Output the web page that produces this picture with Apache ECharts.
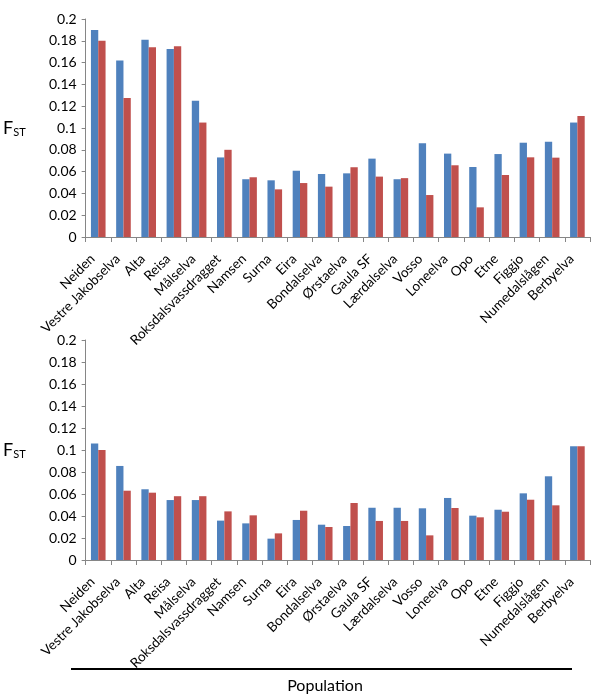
<!DOCTYPE html>
<html>
<head>
<meta charset="utf-8">
<script src="https://cdn.jsdelivr.net/npm/echarts@6/dist/echarts.min.js"></script>
<style>html,body{margin:0;padding:0;background:#fff}#c{width:600px;height:700px}</style>
</head>
<body>
<div id="c"></div>
<script>
const categories = ['Neiden','Vestre Jakobselva','Alta','Reisa','Målselva','Roksdalsvassdragget','Namsen','Surna','Eira','Bondalselva','Ørstaelva','Gaula SF','Lærdalselva','Vosso','Loneelva','Opo','Etne','Figgjo','Numedalslågen','Berbyelva'];
const topBlue = [0.190,0.162,0.181,0.1725,0.125,0.073,0.053,0.052,0.0608,0.0578,0.0584,0.0719,0.053,0.086,0.0765,0.0642,0.0761,0.0865,0.0875,0.105];
const topRed  = [0.180,0.1275,0.174,0.175,0.105,0.080,0.0548,0.0437,0.0495,0.0462,0.064,0.0554,0.054,0.0385,0.0658,0.0272,0.0569,0.0731,0.0728,0.111];
const botBlue = [0.106,0.0855,0.0643,0.0545,0.0545,0.0358,0.0333,0.0194,0.0364,0.0321,0.0309,0.0475,0.0475,0.047,0.0564,0.0403,0.0457,0.0606,0.0761,0.1034];
const botRed  = [0.100,0.063,0.0612,0.058,0.058,0.0442,0.0406,0.0242,0.0448,0.030,0.0518,0.0355,0.0355,0.0224,0.0473,0.0388,0.0439,0.0548,0.0497,0.1034];
const yTicks = [0,0.02,0.04,0.06,0.08,0.1,0.12,0.14,0.16,0.18,0.2];
const yName = 'F';
const ySub = 'ST';
const xTitle = 'Population';

const FONT = 'Lato';
const AXC = '#868686';
function xAxis(gi){
  return {
    type:'category', gridIndex:gi, data:categories, boundaryGap:true,
    axisLine:{lineStyle:{color:AXC,width:1}},
    axisTick:{show:true,alignWithLabel:false,length:5,lineStyle:{color:AXC}},
    axisLabel:{rotate:45,interval:0,margin:14,padding:[0,8,0,0],fontFamily:FONT,fontSize:13.5,color:'#000'}
  };
}
function yAxis(gi){
  return {
    type:'value', gridIndex:gi, min:0, max:0.2, interval:0.02,
    name:'{f|'+yName+'}{s|'+ySub+'}', nameLocation:'middle', nameRotate:0, nameGap:60,
    nameTextStyle:{rich:{f:{fontFamily:FONT,fontSize:18,color:'#000'},s:{fontFamily:FONT,fontSize:11,color:'#000',verticalAlign:'bottom',padding:[8,0,0,0]}}},
    splitLine:{show:false},
    axisLine:{show:true,lineStyle:{color:AXC,width:1}},
    axisTick:{show:true,length:4,inside:false,lineStyle:{color:AXC}},
    axisLabel:{fontFamily:FONT,fontSize:14,color:'#000',margin:9,
      formatter:function(v){const m=yTicks.find(t=>Math.abs(t-v)<1e-9);return m===undefined?'':String(+m.toFixed(2));}}
  };
}
function bar(name,data,gi,color){
  return {type:'bar',name:name,xAxisIndex:gi,yAxisIndex:gi,data:data,barGap:'0%',barCategoryGap:'42%',
    itemStyle:{color:color},silent:true,animation:false};
}
const chart = echarts.init(document.getElementById('c'),null,{renderer:'canvas'});
chart.setOption({
  animation:false,
  grid:[{left:78,top:19,width:512,height:218},{left:78,top:340,width:512,height:220}],
  xAxis:[xAxis(0),xAxis(1)],
  yAxis:[yAxis(0),yAxis(1)],
  series:[bar('a',topBlue,0,'#4F81BD'),bar('b',topRed,0,'#C0504D'),bar('a2',botBlue,1,'#4F81BD'),bar('b2',botRed,1,'#C0504D')],
  graphic:[
    {type:'line',shape:{x1:71,y1:669,x2:572,y2:669},style:{stroke:'#000',lineWidth:2}},
    {type:'text',x:325,y:686,style:{text:xTitle,font:'16px Lato',fill:'#000',textAlign:'center',textVerticalAlign:'middle'}}
  ]
});
</script>
</body>
</html>
